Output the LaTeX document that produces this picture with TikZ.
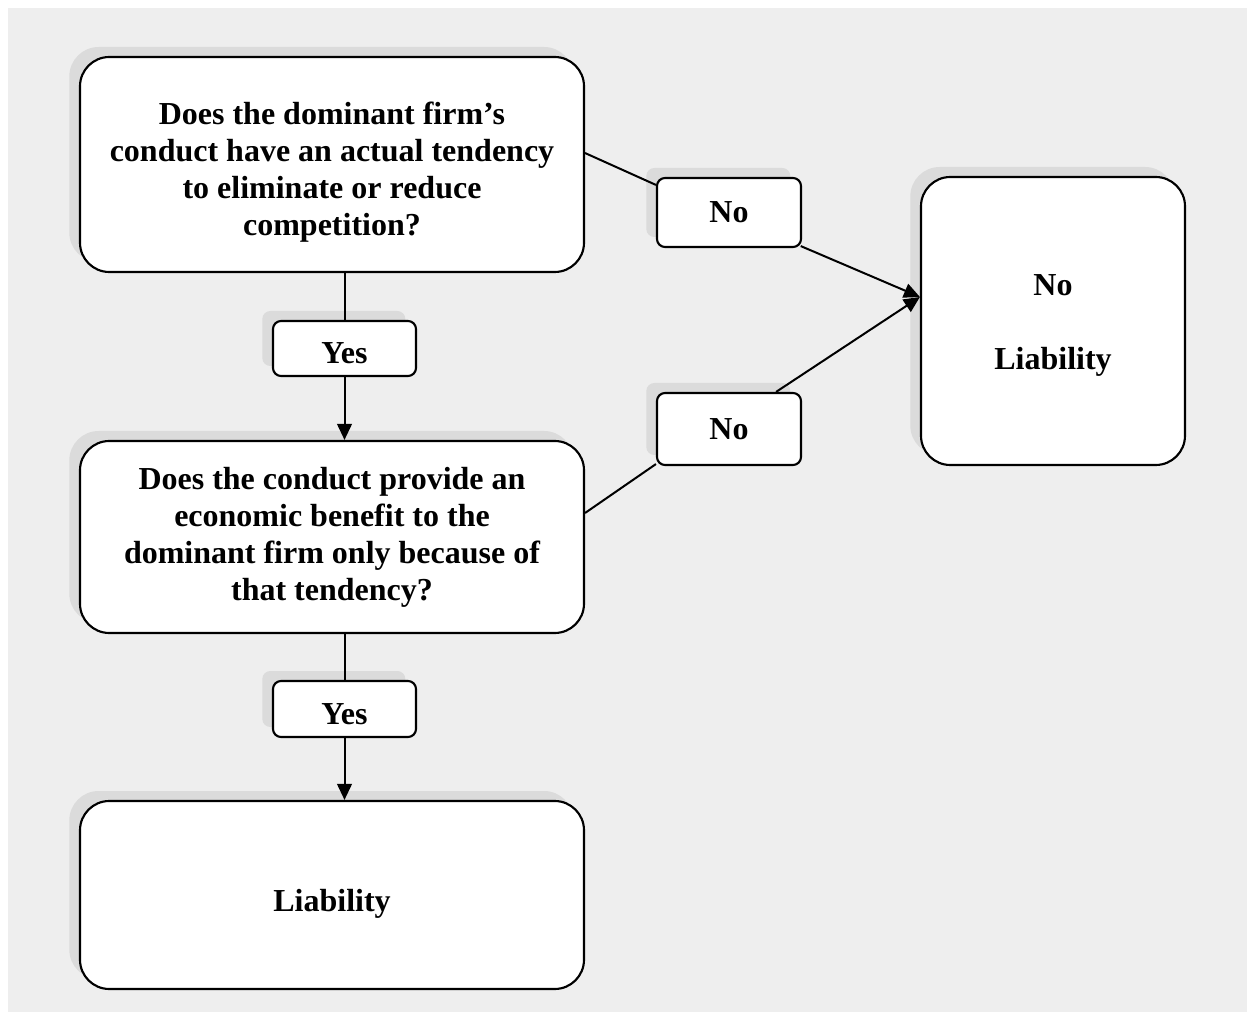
\documentclass[tikz,border=0pt]{standalone}
\usepackage{fontspec}
\setmainfont{Liberation Serif}
\usetikzlibrary{arrows.meta,shadows}
% lower a line of text without changing the space it takes
\newcommand\lowered[2]{\raisebox{-#1}[\height][\depth]{#2}}
\begin{document}
\begin{tikzpicture}[x=0.75pt,y=-0.75pt,
  font=\bfseries\fontsize{24}{27.75}\selectfont,
  shade/.style={drop shadow={shadow xshift=-8pt,shadow yshift=7.5pt,fill=gray!28,opacity=1}},
  bigbox/.style={draw,line width=1.6pt,fill=white,rounded corners=22pt,align=center,
    inner sep=0pt,shade},
  tagbox/.style={draw,line width=1.6pt,fill=white,rounded corners=6pt,align=center,
    inner sep=0pt,shade},
  link/.style={line width=1.5pt},
  arrowlink/.style={line width=1.5pt,-{Triangle[length=12pt,width=11pt]}}]
% page and patterned backdrop
\useasboundingbox (0,0) rectangle (1247,1012);
\fill[gray!13] (8,8) rectangle (1247,1012);

% decision and outcome boxes
\node[bigbox,minimum width=378pt,minimum height=161.25pt] (q1) at (332,164.5)
  {\lowered{6pt}{Does the dominant firm’s}\\
   \lowered{6pt}{conduct have an actual tendency}\\
   \lowered{6pt}{to eliminate or reduce}\\
   \lowered{6pt}{competition?}};
\node[bigbox,minimum width=378pt,minimum height=144pt] (q2) at (332,537)
  {\lowered{0.5pt}{Does the conduct provide an}\\
   \lowered{0.5pt}{economic benefit to the}\\
   \lowered{0.5pt}{dominant firm only because of}\\
   \lowered{0.5pt}{that tendency?}};
\node[bigbox,minimum width=378pt,minimum height=141pt] (liab) at (332,895)
  {\lowered{6.75pt}{Liability}};
\node[bigbox,minimum width=198pt,minimum height=216pt] (noliab) at (1053,321)
  {\lowered{3.5pt}{No}\\[27.75pt]\lowered{3.5pt}{Liability}};

% answer tags
\node[tagbox,minimum width=108pt,minimum height=51.75pt] (no1) at (729,212.5) {No};
\node[tagbox,minimum width=108pt,minimum height=54pt] (no2) at (729,429) {No};
\node[tagbox,minimum width=107.25pt,minimum height=41.25pt] (yes1) at (344.5,348.5)
  {\lowered{3.75pt}{Yes}};
\node[tagbox,minimum width=107.25pt,minimum height=42pt] (yes2) at (344.5,709)
  {\lowered{3.75pt}{Yes}};

% connectors
\coordinate (hit) at ([yshift=18pt]noliab.west);
\draw[link] ([yshift=8.6pt]q1.east) -- ([yshift=-6pt]no1.north west);
\draw[arrowlink] ([xshift=-1pt,yshift=1.5pt]no1.south east) -- (hit);
\draw[link] ([yshift=18pt]q2.east) -- ([yshift=1.5pt]no2.south west);
\draw[arrowlink] ([xshift=-19.5pt]no2.north east) -- (hit);
\draw[link] (q1.south -| yes1.north) -- (yes1.north);
\draw[arrowlink] (yes1.south) -- (q2.north -| yes1.south);
\draw[link] (q2.south -| yes2.north) -- (yes2.north);
\draw[arrowlink] (yes2.south) -- (liab.north -| yes2.south);
\end{tikzpicture}
\end{document}
